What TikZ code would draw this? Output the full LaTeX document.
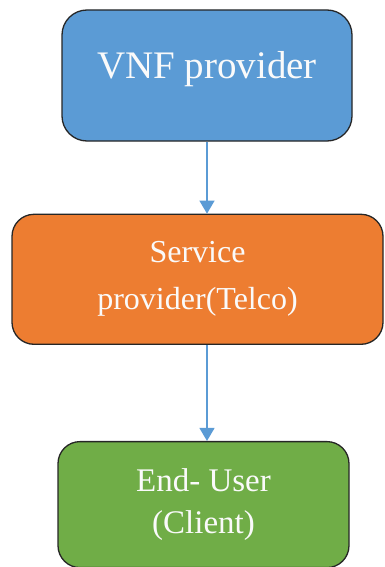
\documentclass[tikz,border=0pt]{standalone}
\usepackage{fontspec}
\setmainfont{Liberation Serif}
\usepackage{tikz}
\usetikzlibrary{arrows.meta, positioning}

\definecolor{vnfblue}{HTML}{5B9BD5}
\definecolor{svcorange}{HTML}{ED7D31}
\definecolor{usergreen}{HTML}{70AD47}
\definecolor{boxline}{HTML}{262626}

\begin{document}
\begin{tikzpicture}[x=1pt, y=-1pt, line width=1.3pt, node distance=72pt and 0pt]
        \tikzset{
            rolebox/.style={draw=boxline, rounded corners=22pt, align=center, inner sep=0pt, text=white!96!gray},
            vnfbox/.style={rolebox, fill=vnfblue, minimum width=290pt, minimum height=131pt, rounded corners=25pt,
                font=\fontsize{39}{47}\selectfont, text height=27pt, text depth=21pt},
            svcbox/.style={rolebox, fill=svcorange, minimum width=371pt, minimum height=130pt,
                font=\fontsize{32}{47}\selectfont},
            userbox/.style={rolebox, fill=usergreen, minimum width=291pt, minimum height=126pt,
                font=\fontsize{33}{42}\selectfont},
            flow/.style={draw=vnfblue, line width=1.3pt, -{Triangle[width=15pt, length=13pt]}}
        }
        \useasboundingbox (0,0) rectangle (384,567);

        % --- boxes ---
        \node[vnfbox] (vnf) at (207,75.5) {VNF provider};
        \node[svcbox, below=of vnf, xshift=-9.5pt] (svc) {Service\\provider(Telco)};
        \node[userbox, below=96pt of svc, xshift=6pt] (user) {End- User\\(Client)};

        % --- arrows ---
        \draw[flow] (vnf.south) -- (vnf.south |- svc.north);
        \draw[flow] (vnf.south |- svc.south) -- (vnf.south |- user.north);

    \end{tikzpicture}
\end{document}
